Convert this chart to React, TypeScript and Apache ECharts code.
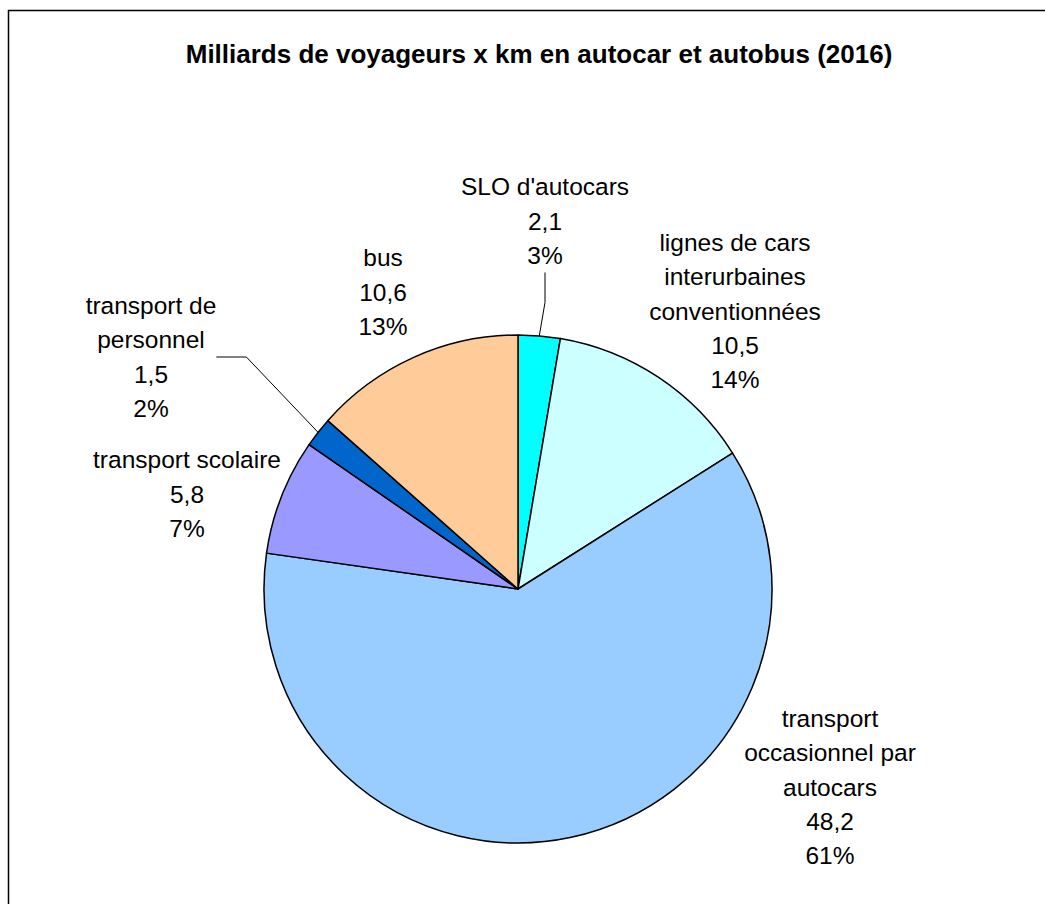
import React, { useEffect, useRef } from "react";
import * as echarts from "echarts";

const categories = [
  "SLO d'autocars",
  "lignes de cars\ninterurbaines\nconventionnées",
  "transport\noccasionnel par\nautocars",
  "transport scolaire",
  "transport de\npersonnel",
  "bus",
];
const values = [2.1, 10.5, 48.2, 5.8, 1.5, 10.6];
const percentLabels = ["3%", "14%", "61%", "7%", "2%", "13%"];
const colors = ["#00FFFF", "#CCFFFF", "#99CCFF", "#9999FF", "#0066CC", "#FFCC99"];
const showLine = [true, false, false, false, true, false];
const labelPos: [number, number][] = [
  [545, 221],
  [735, 311],
  [830, 787],
  [187, 494],
  [151, 357],
  [383, 292],
];

export default function App() {
  const ref = useRef<HTMLDivElement>(null);
  useEffect(() => {
    if (!ref.current) return;
    const chart = echarts.init(ref.current, null, { renderer: "svg" });
    const font = "'Liberation Sans', Arial, Helvetica, sans-serif";
    chart.setOption({
      animation: false,
      backgroundColor: "#ffffff",
      title: {
        text: "Milliards de voyageurs x km en autocar et autobus (2016)",
        left: 534,
        top: 36,
        textAlign: "center",
        textStyle: { fontFamily: font, fontSize: 26, fontWeight: "bold", color: "#000" },
      },
      graphic: [
        {
          type: "rect",
          shape: { x: 8.5, y: 10.5, width: 1100, height: 1000 },
          style: { fill: "none", stroke: "#000", lineWidth: 1.5 },
          silent: true,
        },
      ],
      series: [
        {
          type: "pie",
          center: [518, 589],
          radius: 254,
          startAngle: 90,
          clockwise: true,
          avoidLabelOverlap: false,
          itemStyle: { borderColor: "#000", borderWidth: 1.5 },
          label: {
            show: true,
            position: "outside",
            fontFamily: font,
            fontSize: 24.5,
            lineHeight: 34.3,
            color: "#000",
            align: "center",
            formatter: (p: any) =>
              `${p.name}\n${String(values[p.dataIndex]).replace(".", ",")}\n${percentLabels[p.dataIndex]}`,
          },
          labelLayout: (p: any) => ({
            x: labelPos[p.dataIndex][0],
            y: labelPos[p.dataIndex][1],
            align: "center",
            verticalAlign: "middle",
          }),
          labelLine: { show: true, lineStyle: { color: "#000", width: 1 } },
          data: categories.map((c, i) => ({
            name: c,
            value: values[i],
            itemStyle: { color: colors[i] },
            labelLine: { show: showLine[i] },
          })),
        },
      ],
    });
    return () => chart.dispose();
  }, []);
  return (
    <div
      ref={ref}
      style={{ position: "absolute", left: 0, top: 0, width: 1045, height: 904 }}
    />
  );
}
